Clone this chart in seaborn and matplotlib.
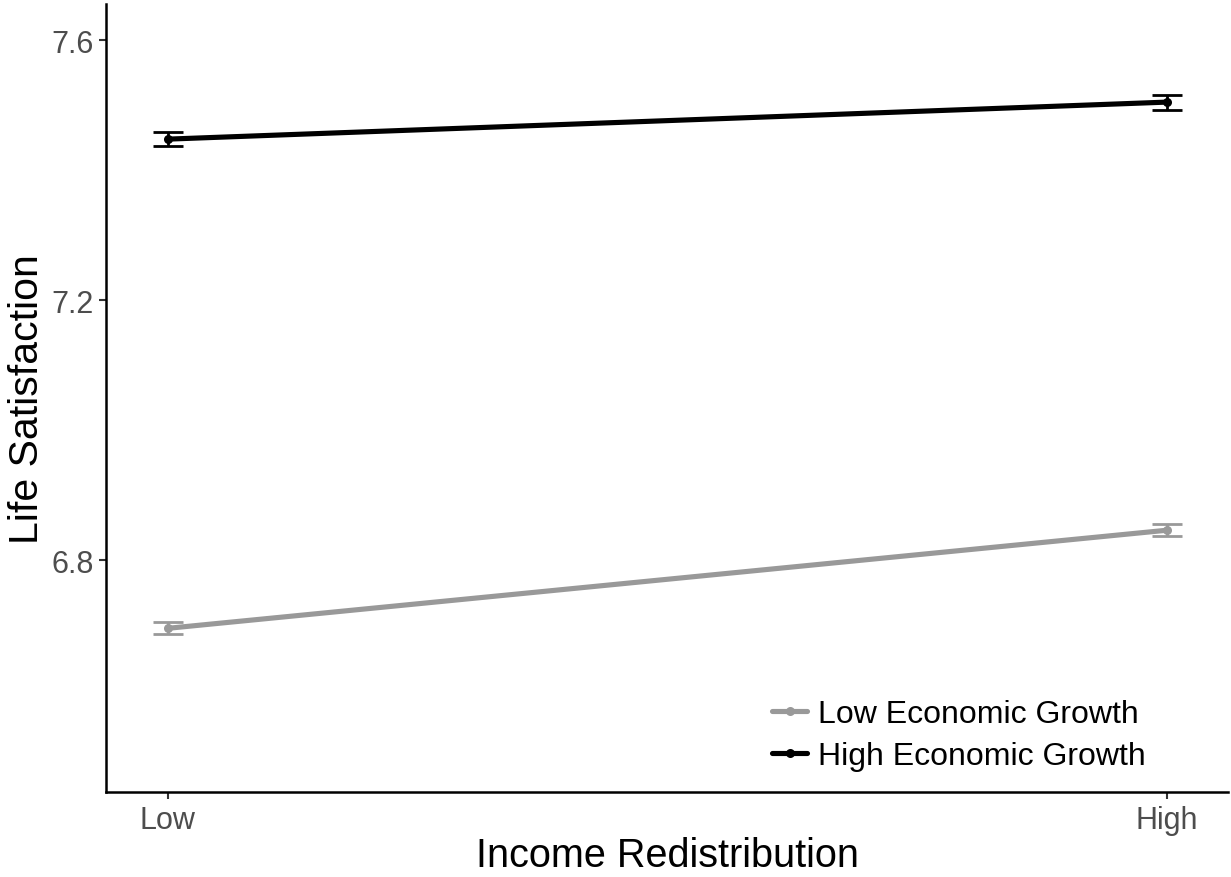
import pandas as pd
import matplotlib
matplotlib.use('Agg')
import matplotlib.pyplot as plt
import seaborn as sns

# Data
redistribution = ['Low', 'High']
growth_groups = ['Low Economic Growth', 'High Economic Growth']
low_growth_mean = [6.695, 6.846]
low_growth_se = [0.0095, 0.009]
high_growth_mean = [7.448, 7.505]
high_growth_se = [0.011, 0.0115]
y_ticks = [6.8, 7.2, 7.6]

sns.set_theme(style='white')
plt.rcParams['font.family'] = ['Liberation Sans', 'DejaVu Sans']

df = pd.DataFrame({
    'x': [0, 1, 0, 1],
    'Redistribution': redistribution * 2,
    'Growth': [growth_groups[0]] * 2 + [growth_groups[1]] * 2,
    'mean': low_growth_mean + high_growth_mean,
    'se': low_growth_se + high_growth_se,
})
palette = {growth_groups[0]: '#999999', growth_groups[1]: '#000000'}

fig = plt.figure(figsize=(12.31, 8.78), dpi=100)
ax = fig.add_axes([0.0861, 0.0968, 0.9976 - 0.0861, 0.9943 - 0.0968])

sns.lineplot(data=df, x='x', y='mean', hue='Growth', palette=palette,
             hue_order=growth_groups, marker='o', markersize=6.5,
             markeredgewidth=0, linewidth=3.7, ax=ax)

# Error bars (mean +/- SE)
for g in growth_groups:
    sub = df[df['Growth'] == g]
    ax.errorbar(sub['x'], sub['mean'], yerr=sub['se'], fmt='none',
                ecolor=palette[g], elinewidth=2, capsize=11, capthick=2)

ax.set_xlim(-0.062, 1.061)
ax.set_ylim(6.443, 7.656)
ax.set_xticks([0, 1])
ax.set_xticklabels(redistribution)
ax.set_yticks(y_ticks)
ax.set_yticklabels([f'{v:.1f}' for v in y_ticks])
ax.tick_params(axis='both', labelsize=22, colors='#333333',
               direction='out', length=5, width=1.5, bottom=True, left=True, pad=4)
ax.tick_params(axis='both', labelcolor='#4D4D4D')

for side in ['top', 'right']:
    ax.spines[side].set_visible(False)
for side in ['left', 'bottom']:
    ax.spines[side].set_color('black')
    ax.spines[side].set_linewidth(1.8)

ax.set_xlabel('Income Redistribution', fontsize=28.5, color='black', labelpad=1)
ax.set_ylabel('Life Satisfaction', fontsize=29.5, color='black', labelpad=4)

leg = ax.legend(title=None, frameon=False, fontsize=23, loc='upper left',
                bbox_to_anchor=(0.594, 0.118), borderpad=0, borderaxespad=0,
                handlelength=1.07, handletextpad=0.35, labelspacing=0.37)
for t in leg.get_texts():
    t.set_color('black')

fig.savefig('out.png', dpi=100)
